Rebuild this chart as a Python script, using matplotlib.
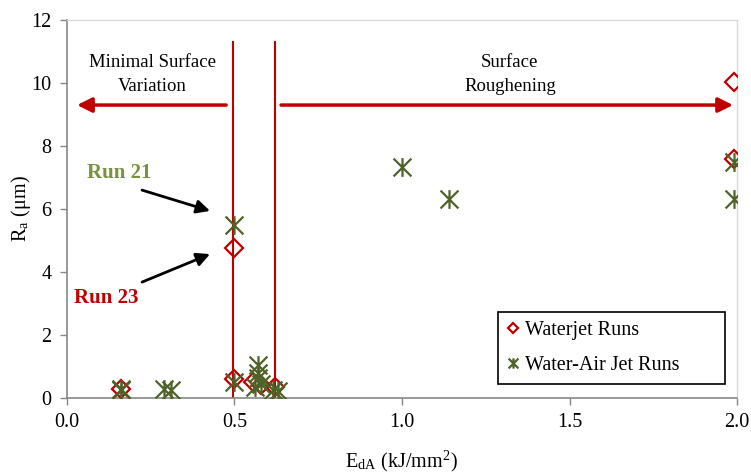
import matplotlib
matplotlib.use('Agg')
import matplotlib.pyplot as plt
from matplotlib.path import Path

# data
waterjet_x = [0.16, 0.50, 0.50, 0.555, 0.58, 0.62, 1.99, 1.99]
waterjet_y = [0.30, 4.76, 0.60, 0.50, 0.40, 0.35, 10.02, 7.60]

airjet_x = [0.16, 0.16, 0.29, 0.31, 0.50, 0.50, 0.57, 0.57, 0.57, 0.58, 0.56, 0.615, 0.63, 1.00, 1.14, 1.99, 1.99]
airjet_y = [0.30, 0.25, 0.28, 0.25, 5.48, 0.50, 1.05, 0.80, 0.62, 0.45, 0.35, 0.25, 0.22, 7.33, 6.33, 7.50, 6.33]

boundary_x = [0.497, 0.62]
boundary_top = 11.3
arrow_y = 9.3

x_ticks = [0.0, 0.5, 1.0, 1.5, 2.0]
y_ticks = [0, 2, 4, 6, 8, 10, 12]

RED = '#C00000'
OLIVE = '#4F6228'
LIGHT_OLIVE = '#77933C'
GRAY = '#868686'

plt.rcParams['font.family'] = 'Liberation Serif'
plt.rcParams['mathtext.fontset'] = 'stix'

# Excel-like star marker: an X with a vertical bar
star = Path([(-1, -1), (1, 1), (-1, 1), (1, -1), (0, -1.05), (0, 1.05)],
            [Path.MOVETO, Path.LINETO] * 3)

fig = plt.figure(figsize=(7.51, 4.74), dpi=100)
ax = fig.add_axes([0.0892, 0.1603, 0.8922, 0.7975])

# vertical boundary lines
for bx in boundary_x:
    ax.plot([bx, bx], [0, boundary_top], color=RED, lw=1.5, zorder=2)

ax.plot(waterjet_x, waterjet_y, linestyle='none', marker='D', ms=9.5, mfc='none',
        mec=RED, mew=1.6, label='Waterjet Runs', zorder=3)
ax.plot(airjet_x, airjet_y, linestyle='none', marker=star, ms=13.5, mfc='none',
        mec=OLIVE, mew=1.6, label='Water-Air Jet Runs', zorder=4)

# region arrows
red_arrow = dict(arrowstyle='-|>', color=RED, lw=2.5, mutation_scale=22,
                 shrinkA=0, shrinkB=0)
ax.annotate('', xy=(0.03, arrow_y), xytext=(0.475, arrow_y), arrowprops=red_arrow)
ax.annotate('', xy=(1.988, arrow_y), xytext=(0.639, arrow_y), arrowprops=red_arrow)
ax.text(0.255, 10.28, 'Minimal Surface\nVariation', ha='center', va='center',
        fontsize=13.5, linespacing=1.55)
ax.text(1.322, 10.28, 'Surface\nRoughening', ha='center', va='center',
        fontsize=13.5, linespacing=1.55)

# run callouts
black_arrow = dict(arrowstyle='-|>', color='black', lw=2, mutation_scale=20,
                   shrinkA=0, shrinkB=0)
ax.annotate('', xy=(0.427, 5.94), xytext=(0.224, 6.6), arrowprops=black_arrow)
ax.annotate('', xy=(0.427, 4.57), xytext=(0.224, 3.68), arrowprops=black_arrow)
ax.text(0.157, 7.14, 'Run 21', ha='center', va='center', fontsize=15,
        fontweight='bold', color=LIGHT_OLIVE)
ax.text(0.117, 3.17, 'Run 23', ha='center', va='center', fontsize=15,
        fontweight='bold', color=RED)

ax.set_xlim(0, 2)
ax.set_ylim(0, 12)
ax.set_xticks(x_ticks)
ax.set_xticklabels([f'{v:.1f}' for v in x_ticks])
ax.set_yticks(y_ticks)
ax.tick_params(direction='out', length=5, width=1, color=GRAY, labelsize=14.5, pad=6)

for side in ['left', 'bottom']:
    ax.spines[side].set_color(GRAY)
    ax.spines[side].set_linewidth(1.2)
for side in ['top', 'right']:
    ax.spines[side].set_color('#D9D9D9')
    ax.spines[side].set_linewidth(1)

ax.set_xlabel(r'E$_{\mathregular{dA}}$ (kJ/mm$^{\mathregular{2}}$)', fontsize=14.5, labelpad=12)
ax.set_ylabel(r'R$_{\mathregular{a}}$ (μm)', fontsize=14.5)
ax.yaxis.set_label_coords(-0.05, 0.5)

leg = ax.legend(loc='lower left', bbox_to_anchor=(0.643, 0.037, 0.339, 0.196),
                mode='expand', fontsize=14.5, markerscale=0.55, handlelength=0.6,
                handletextpad=0.3, borderpad=0.45, labelspacing=0.8, fancybox=False,
                framealpha=1, edgecolor='black', borderaxespad=0)
leg.get_frame().set_linewidth(1.2)

fig.savefig('out.png', dpi=100)
